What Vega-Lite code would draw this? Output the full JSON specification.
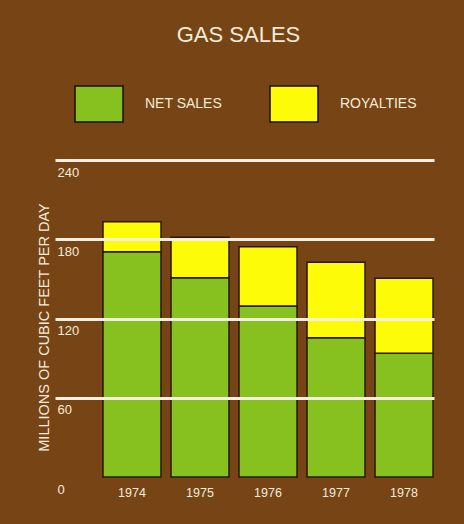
{
  "$schema": "https://vega.github.io/schema/vega-lite/v6.json",
  "width": 379,
  "height": 317,
  "autosize": {"type": "none"},
  "padding": {"left": 55, "top": 160, "right": 30, "bottom": 47},
  "background": "#774416",
  "config": {
    "view": {"stroke": null},
    "font": "Liberation Sans",
    "text": {"font": "Liberation Sans"}
  },
  "title": {
    "text": "GAS SALES",
    "fontSize": 22,
    "fontWeight": "normal",
    "font": "Liberation Sans",
    "color": "#f4ecd8",
    "anchor": "middle",
    "dx": -6,
    "offset": 32
  },
  "data": {
    "values": [
      {"year": "1974", "type": "NET SALES", "value": 170.6},
      {"year": "1974", "type": "ROYALTIES", "value": 22.7},
      {"year": "1975", "type": "NET SALES", "value": 150.9},
      {"year": "1975", "type": "ROYALTIES", "value": 30.6},
      {"year": "1976", "type": "NET SALES", "value": 129.5},
      {"year": "1976", "type": "ROYALTIES", "value": 44.9},
      {"year": "1977", "type": "NET SALES", "value": 105.5},
      {"year": "1977", "type": "ROYALTIES", "value": 57.0},
      {"year": "1978", "type": "NET SALES", "value": 93.6},
      {"year": "1978", "type": "ROYALTIES", "value": 56.8}
    ]
  },
  "mark": {"type": "bar", "stroke": "#2a1606", "strokeWidth": 1.5, "opacity": 1},
  "encoding": {
    "x": {
      "field": "year",
      "type": "nominal",
      "scale": {"paddingInner": 0.147, "paddingOuter": 0.36, "align": 0.98},
      "axis": {
        "title": null,
        "domain": false,
        "ticks": false,
        "labelAngle": 0,
        "labelPadding": 9,
        "labelFontSize": 12.5,
        "labelColor": "#f4ecd8",
        "labelFont": "Liberation Sans"
      }
    },
    "y": {
      "field": "value",
      "type": "quantitative",
      "stack": "zero",
      "scale": {"domain": [0, 240], "nice": false},
      "axis": {
        "values": [0, 60, 120, 180, 240],
        "grid": true,
        "gridColor": {"condition": {"test": "datum.value === 0", "value": "transparent"}, "value": "#f4efe2"},
        "gridWidth": 3,
        "gridOpacity": 1,
        "zindex": 1,
        "domain": false,
        "ticks": false,
        "tickSize": 0,
        "labelAlign": "left",
        "labelBaseline": "top",
        "labelPadding": -2,
        "labelOffset": 6,
        "labelFontSize": 13,
        "labelColor": "#f4ecd8",
        "labelFont": "Liberation Sans",
        "title": "MILLIONS OF CUBIC FEET PER DAY",
        "titleFontSize": 14.5,
        "titleFontWeight": "normal",
        "titleColor": "#f4ecd8",
        "titleFont": "Liberation Sans",
        "titleAngle": -90,
        "titleAlign": "center",
        "titleBaseline": "alphabetic",
        "titleX": -7,
        "titleY": 167
      }
    },
    "order": {"field": "type", "sort": "ascending"},
    "color": {
      "field": "type",
      "type": "nominal",
      "scale": {"domain": ["NET SALES", "ROYALTIES"], "range": ["#86c11f", "#fdfb08"]},
      "legend": {
        "title": null,
        "orient": "none",
        "direction": "horizontal",
        "legendX": 19,
        "legendY": -81,
        "padding": 0,
        "symbolType": "M-1,-0.75L1,-0.75L1,0.75L-1,0.75Z",
        "symbolSize": 2304,
        "symbolStrokeColor": "#1a0e04",
        "symbolStrokeWidth": 1.5,
        "symbolOpacity": 1,
        "labelOffset": 21,
        "columnPadding": 44,
        "labelFontSize": 14,
        "labelColor": "#f4ecd8",
        "labelFont": "Liberation Sans"
      }
    }
  }
}
